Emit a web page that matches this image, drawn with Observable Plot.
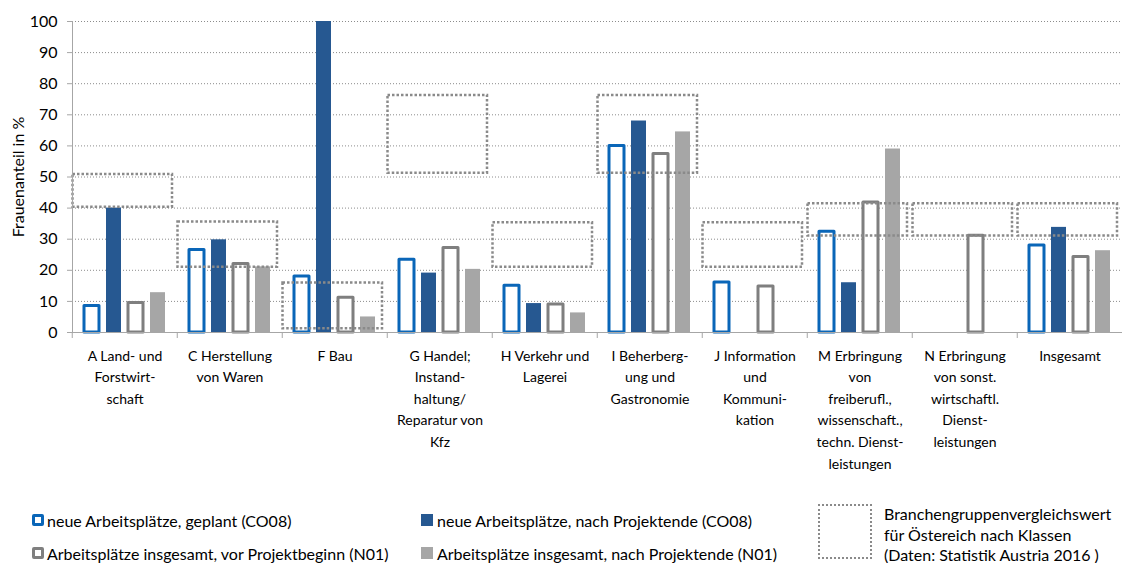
<!DOCTYPE html>
<html>
<head>
<meta charset="utf-8">
<script src="https://cdn.jsdelivr.net/npm/d3@7"></script>
<script src="https://cdn.jsdelivr.net/npm/@observablehq/plot@0.6"></script>
<style>
  body { margin: 0; background: #fff; }
  #wrap { width: 1125px; font-family: Lato, "Open Sans", sans-serif; color: #000; }
  #legend { position: relative; width: 1125px; height: 83px; font-size: 16px; }
  #legend .item { position: absolute; display: flex; align-items: center; white-space: nowrap; height: 20px; }
  #legend .sw { box-sizing: border-box; width: 12px; height: 12px; margin-right: 3px; }
  #legend .box { position: absolute; left: 818px; top: 24px; width: 54px; height: 55px; box-sizing: border-box; border: 2.5px dotted #8a8a8a; }
  #legend .boxtext { position: absolute; left: 884px; top: 24px; line-height: 20.5px; }
</style>
</head>
<body>
<div id="wrap">
  <div id="chart"></div>
  <div id="legend"></div>
</div>
<script>
// ---- data ----
const categories = ["A", "C", "F", "G", "H", "I", "J", "M", "N", "Insgesamt"];
const tickLabels = [
  "A Land- und\nForstwirt-\nschaft",
  "C Herstellung\nvon Waren",
  "F Bau",
  "G Handel;\nInstand-\nhaltung/\nReparatur von\nKfz",
  "H Verkehr und\nLagerei",
  "I Beherberg-\nung und\nGastronomie",
  "J Information\nund\nKommuni-\nkation",
  "M Erbringung\nvon\nfreiberufl.,\nwissenschaft.,\ntechn. Dienst-\nleistungen",
  "N Erbringung\nvon sonst.\nwirtschaftl.\nDienst-\nleistungen",
  "Insgesamt"
];
const seriesNames = [
  "neue Arbeitsplätze, geplant (CO08)",
  "neue Arbeitsplätze, nach Projektende (CO08)",
  "Arbeitsplätze insgesamt, vor Projektbeginn (N01)",
  "Arbeitsplätze insgesamt, nach Projektende (N01)"
];
const geplantCO08  = [8.5, 26.5, 18.0, 23.4, 15.0, 60.0, 16.1, 32.4, null, 28.0];
const nachCO08     = [40.0, 29.8, 100.0, 19.1, 9.3, 68.0, null, 16.0, null, 33.8];
const vorN01       = [9.5, 22.0, 11.2, 27.2, 9.0, 57.4, 14.8, 41.8, 31.1, 24.3];
const nachN01      = [12.8, 21.1, 5.0, 20.3, 6.3, 64.5, null, 59.0, null, 26.3];
const rangeLow     = [40.3, 21.0, 1.2, 51.2, 21.0, 51.2, 21.0, 31.0, 31.0, 31.0];
const rangeHigh    = [50.8, 35.5, 15.9, 76.2, 35.3, 76.2, 35.3, 41.4, 41.4, 41.4];
const yTicks = [0, 10, 20, 30, 40, 50, 60, 70, 80, 90, 100];
const boxLabel = ["Branchengruppenvergleichswert", "für Östereich nach Klassen", "(Daten: Statistik Austria 2016 )"];

// ---- styles ----
const blue = "#0a66b8", darkBlue = "#265891", grey = "#7f7f7f", lightGrey = "#a6a6a6", boxGrey = "#8a8a8a";

const seriesArrays = [geplantCO08, nachCO08, vorN01, nachN01];
const rowsFor = k => categories.map((c, i) => ({cat: c, series: seriesNames[k], value: seriesArrays[k][i]}))
  .filter(d => d.value != null);
const boxes = categories.map((c, i) => ({cat: c, lo: rangeLow[i], hi: rangeHigh[i]}));
const labelOf = new Map(categories.map((c, i) => [c, tickLabels[i]]));

const W = 1125, ML = 69, MR = 1;
const facetStep = (W - ML - MR) / categories.length;

const chart = Plot.plot({
  width: W,
  height: 480,
  marginLeft: ML,
  marginRight: MR,
  marginTop: 21,
  marginBottom: 148,
  style: {fontFamily: "Lato, 'Open Sans', sans-serif", fontSize: "14px", color: "#000", background: "#fff"},
  fx: {domain: categories, padding: 0, label: null, axis: null},
  x: {domain: seriesNames, paddingInner: 0.3, paddingOuter: 0.45, axis: null},
  y: {domain: [0, 100], label: null, axis: null},
  marks: [
    Plot.gridY(yTicks.filter(t => t > 0), {stroke: "#8c8c8c", strokeOpacity: 1, strokeDasharray: "1,2"}),
    Plot.barY(rowsFor(0), {fx: "cat", x: "series", y: "value", fill: "white", stroke: blue, strokeWidth: 3, strokeLinejoin: "round"}),
    Plot.barY(rowsFor(1), {fx: "cat", x: "series", y: "value", fill: darkBlue}),
    Plot.barY(rowsFor(2), {fx: "cat", x: "series", y: "value", fill: "white", stroke: grey, strokeWidth: 3, strokeLinejoin: "round"}),
    Plot.barY(rowsFor(3), {fx: "cat", x: "series", y: "value", fill: lightGrey}),
    Plot.barY(boxes, {fx: "cat", y1: "lo", y2: "hi", fill: "none", stroke: boxGrey, strokeWidth: 2.5, strokeDasharray: "2.5,2", insetLeft: 0.5, insetRight: 5}),
    Plot.ruleY([0], {stroke: lightGrey}),
    Plot.frame({anchor: "left", stroke: lightGrey, facetAnchor: "left"}),
    Plot.axisY({
      ticks: yTicks, tickSize: 5, tickPadding: 10, stroke: lightGrey, fontSize: 16,
      label: "Frauenanteil in %", labelAnchor: "center", labelArrow: "none", labelOffset: 60
    }),
    Plot.axisFx({
      anchor: "bottom", tickSize: 0, tickPadding: 13, lineHeight: 1.54, fontSize: 14,
      tickFormat: c => labelOf.get(c), label: null
    }),
    Plot.axisFx({
      anchor: "bottom", tickSize: 6, stroke: lightGrey, tickFormat: () => "", dx: -facetStep / 2, label: null
    })
  ]
});
document.getElementById("chart").appendChild(chart);

// ---- legend ----
const legend = document.getElementById("legend");
const items = [
  {label: seriesNames[0], left: 32, top: 30, sw: `border:3px solid ${blue};background:#fff;border-radius:2px;`},
  {label: seriesNames[1], left: 421, top: 30, sw: `background:${darkBlue};margin-right:4px;`},
  {label: seriesNames[2], left: 32, top: 63, sw: `border:3px solid ${grey};background:#fff;border-radius:2px;`},
  {label: seriesNames[3], left: 421, top: 63, sw: `background:${lightGrey};margin-right:4px;`}
];
for (const it of items) {
  const d = document.createElement("div");
  d.className = "item";
  d.style.left = it.left + "px";
  d.style.top = it.top + "px";
  const s = document.createElement("span");
  s.className = "sw";
  s.style.cssText += it.sw;
  const t = document.createElement("span");
  t.textContent = it.label;
  d.appendChild(s); d.appendChild(t);
  legend.appendChild(d);
}
const box = document.createElement("div");
box.className = "box";
legend.appendChild(box);
const bt = document.createElement("div");
bt.className = "boxtext";
bt.innerHTML = boxLabel.map(s => s.replace(/&/g, "&amp;").replace(/</g, "&lt;")).join("<br>");
legend.appendChild(bt);
</script>
</body>
</html>
